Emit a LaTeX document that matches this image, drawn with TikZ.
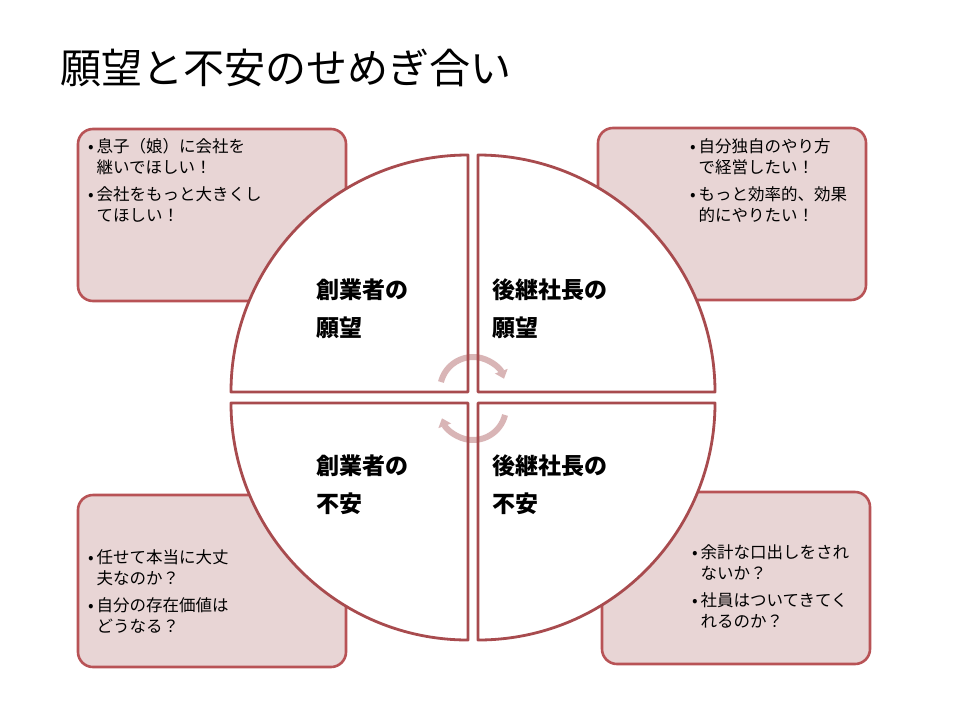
\documentclass[tikz,border=0pt]{standalone}
\usepackage{fontspec}
\setmainfont{Noto Sans CJK JP}
\usepackage{tikz}
\usetikzlibrary{arrows.meta, positioning}
\definecolor{mRed}{HTML}{A84B4E}
\definecolor{mBoxLine}{HTML}{B85356}
\definecolor{mPink}{HTML}{E8D5D5}
\definecolor{mArrow}{HTML}{D9B5B6}
\newcommand{\bitem}[2]{•\,#1\\\hphantom{•\,}#2}

\begin{document}
\begin{tikzpicture}[x=1pt, y=-1pt,
    wishbox/.style={draw=mBoxLine, line width=2.6pt, rounded corners=15pt, fill=mPink, minimum width=268pt, minimum height=172pt},
    boxtext/.style={inner sep=0pt, align=left, font=\fontsize{16.5}{21}\selectfont},
    quadlabel/.style={inner sep=0pt, align=left, anchor=west, font=\fontsize{23}{38}\selectfont\bfseries},
    quadfill/.style={fill=white},
    quadline/.style={draw=mRed, line width=2.8pt, line join=round},
    cycarrow/.style={draw=mArrow, line width=6pt, -{Triangle[width=13pt, length=8pt]}}]
    \useasboundingbox (0,0) rectangle (960,720);
    \node[anchor=west, inner sep=0pt, font=\fontsize{41}{41}\selectfont] (title) at (60,68) {願望と不安のせめぎ合い};
    % boxes behind the circle
    \node[wishbox] (tlbox) at (212,215) {};
    \node[wishbox] (trbox) at (732,214) {};
    \node[wishbox] (blbox) at (212,581) {};
    \node[wishbox] (brbox) at (736,578) {};
    \node[boxtext, anchor=north west] (tltext) at (88,138) {\bitem{息子（娘）に会社を}{継いでほしい！}\\[6pt]\bitem{会社をもっと大きくし}{てほしい！}};
    \node[boxtext, anchor=north west] (trtext) at (690,138) {\bitem{自分独自のやり方}{で経営したい！}\\[6pt]\bitem{もっと効率的、効果}{的にやりたい！}};
    \node[boxtext, anchor=north west] (bltext) at (88,549) {\bitem{任せて本当に大丈}{夫なのか？}\\[6pt]\bitem{自分の存在価値は}{どうなる？}};
    \node[boxtext, anchor=north west] (brtext) at (692,544) {\bitem{余計な口出しをされ}{ないか？}\\[6pt]\bitem{社員はついてきてく}{れるのか？}};
    % four quarters
    \foreach \s in {quadfill} {
      \path[\s] (468,392) -- (231,392) arc[start angle=180, end angle=270, radius=237] -- cycle;
      \path[\s] (478,392) -- (715,392) arc[start angle=0, end angle=-90, radius=237] -- cycle;
      \path[\s] (468,403) -- (231,403) arc[start angle=180, end angle=90, radius=237] -- cycle;
      \path[\s] (478,403) -- (715,403) arc[start angle=0, end angle=90, radius=237] -- cycle;
    }
    \draw[cycarrow] (473,390) ++(194:33) arc[start angle=194, end angle=340, radius=33];
    \draw[cycarrow] (473,407) ++(14:33) arc[start angle=14, end angle=160, radius=33];
    \foreach \s in {quadline} {
      \path[\s] (468,392) -- (231,392) arc[start angle=180, end angle=270, radius=237] -- cycle;
      \path[\s] (478,392) -- (715,392) arc[start angle=0, end angle=-90, radius=237] -- cycle;
      \path[\s] (468,403) -- (231,403) arc[start angle=180, end angle=90, radius=237] -- cycle;
      \path[\s] (478,403) -- (715,403) arc[start angle=0, end angle=90, radius=237] -- cycle;
    }
    \node[quadlabel] (tlq) at (316,309) {創業者の\\願望};
    \node[quadlabel] (trq) at (492,309) {後継社長の\\願望};
    \node[quadlabel] (blq) at (316,485) {創業者の\\不安};
    \node[quadlabel] (brq) at (492,485) {後継社長の\\不安};
  \end{tikzpicture}
\end{document}
